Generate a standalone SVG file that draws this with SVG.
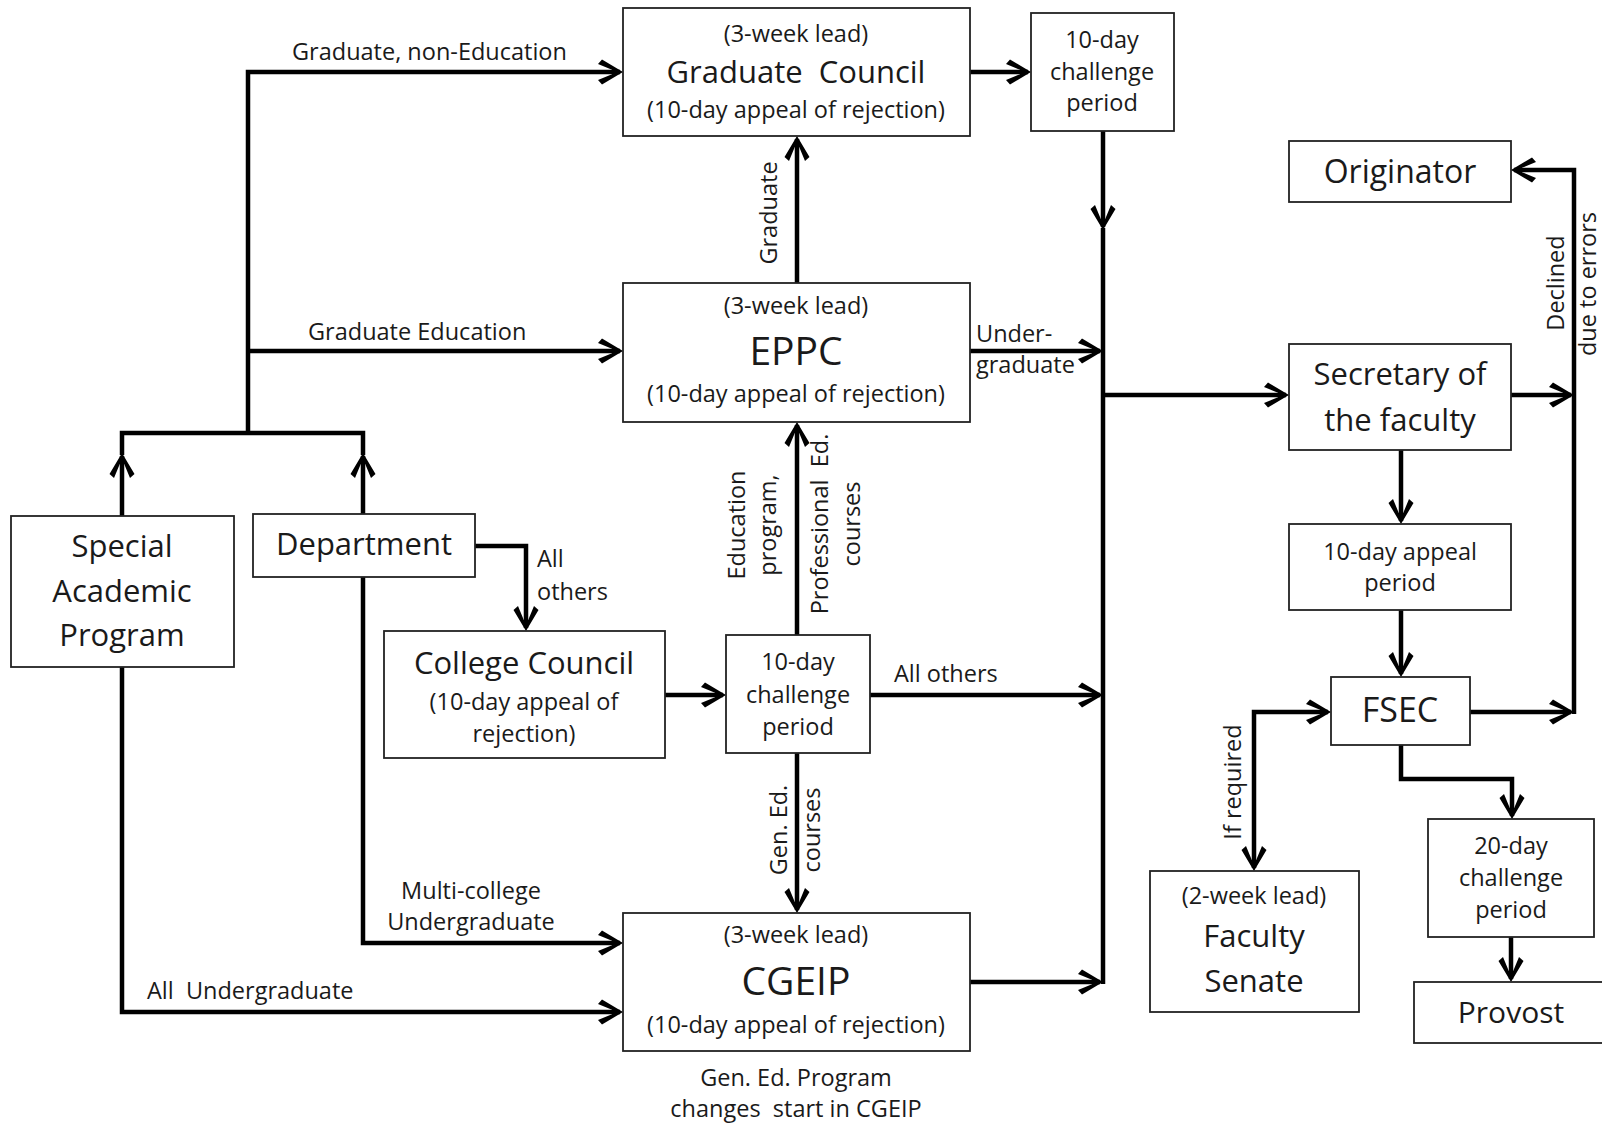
<svg xmlns="http://www.w3.org/2000/svg" width="1602" height="1125" viewBox="0 0 1602 1125">
<defs>
<style>
text{font-family:"Open Sans","Noto Sans","Liberation Sans",sans-serif;fill:#1a1a1a;}
.box{fill:#fff;stroke:#222;stroke-width:1.8;}
.s{font-size:23.5px;}
.m{font-size:31px;}
.l{font-size:39px;}
.c{text-anchor:middle;}
.ln{fill:none;stroke:#000;stroke-width:4.5;stroke-linejoin:miter;}
.ar{marker-end:url(#a);}
</style>
<marker id="a" markerUnits="userSpaceOnUse" viewBox="-26 -14 30 28" refX="-3" refY="0" markerWidth="30" markerHeight="28" orient="auto-start-reverse" overflow="visible">
<path d="M0,0 L-21,-12.5 L-25,-8 L-11,-2.2 L-11,2.2 L-25,8 L-21,12.5 Z" fill="#000"/>
</marker>
</defs>
<rect width="1602" height="1125" fill="#fff"/>

<g id="connectors">
<path class="ln" d="M122,455 L122,433 L363,433 L363,455"/>
<path class="ln ar" d="M122,516 L122,456"/>
<path class="ln ar" d="M363,514 L363,456"/>
<path class="ln ar" d="M248,435 L248,72 L620,72"/>
<path class="ln ar" d="M248,351 L620,351"/>
<path class="ln ar" d="M475,546 L526,546 L526,628"/>
<path class="ln ar" d="M363,577 L363,943 L620,943"/>
<path class="ln ar" d="M122,667 L122,1012 L620,1012"/>
<path class="ln ar" d="M665,695 L723,695"/>
<path class="ln ar" d="M797,635 L797,425"/>
<path class="ln ar" d="M797,753 L797,910"/>
<path class="ln ar" d="M870,695 L1100,695"/>
<path class="ln ar" d="M797,283 L797,139"/>
<path class="ln ar" d="M970,72 L1028,72"/>
<path class="ln ar" d="M1103,131 L1103,227"/>
<path class="ln" d="M1103,228 L1103,984"/>
<path class="ln ar" d="M970,351 L1100,351"/>
<path class="ln ar" d="M970,982 L1100,982"/>
<path class="ln ar" d="M1103,395 L1286,395"/>
<path class="ln ar" d="M1401,450 L1401,521"/>
<path class="ln ar" d="M1401,610 L1401,674"/>
<path class="ln ar" d="M1401,745 L1401,779 L1512,779 L1512,816"/>
<path class="ln ar" d="M1511,937 L1511,979"/>
<path class="ln ar" d="M1470,712 L1571,712"/>
<path class="ln ar" d="M1511,395 L1571,395"/>
<path class="ln ar" d="M1574,714 L1574,170 L1514,170"/>
<path class="ln ar" d="M1254,868 L1254,712 L1328,712" marker-start="url(#a)"/>
</g>

<g id="edge-labels">
<text class="s" x="292" y="60">Graduate, non-Education</text>
<text class="s" x="308" y="340">Graduate Education</text>
<text class="s" x="537" y="567">All</text>
<text class="s" x="537" y="600">others</text>
<text class="s c" x="471" y="899">Multi-college</text>
<text class="s c" x="471" y="930">Undergraduate</text>
<text class="s" x="147" y="999" xml:space="preserve">All  Undergraduate</text>
<text class="s" x="894" y="682">All others</text>
<text class="s" x="976" y="342">Under-</text>
<text class="s" x="976" y="373">graduate</text>
<text class="s c" transform="translate(777,213) rotate(-90)">Graduate</text>
<text class="s c" transform="translate(745,525) rotate(-90)">Education</text>
<text class="s c" transform="translate(776,525) rotate(-90)">program,</text>
<text class="s c" transform="translate(828,524) rotate(-90)" xml:space="preserve">Professional  Ed.</text>
<text class="s c" transform="translate(860,524) rotate(-90)">courses</text>
<text class="s c" transform="translate(787,830) rotate(-90)">Gen. Ed.</text>
<text class="s c" transform="translate(820,830) rotate(-90)">courses</text>
<text class="s c" transform="translate(1564,283) rotate(-90)">Declined</text>
<text class="s c" transform="translate(1596,284) rotate(-90)">due to errors</text>
<text class="s c" transform="translate(1241,782) rotate(-90)">If required</text>
<text class="s c" x="796" y="1086">Gen. Ed. Program</text>
<text class="s c" x="796" y="1117" xml:space="preserve">changes  start in CGEIP</text>
</g>

<g id="graduate-council">
<rect class="box" x="623" y="8" width="347" height="128"/>
<text class="s c" x="796" y="42">(3-week lead)</text>
<text class="m c" x="796" y="83" xml:space="preserve">Graduate  Council</text>
<text class="s c" x="796" y="118">(10-day appeal of rejection)</text>
</g>

<g id="challenge-top">
<rect class="box" x="1031" y="13" width="143" height="118"/>
<text class="s c" x="1102" y="48">10-day</text>
<text class="s c" x="1102" y="80">challenge</text>
<text class="s c" x="1102" y="111">period</text>
</g>

<g id="originator">
<rect class="box" x="1289" y="141" width="222" height="61"/>
<text class="c" style="font-size:32px" x="1400" y="183">Originator</text>
</g>

<g id="eppc">
<rect class="box" x="623" y="283" width="347" height="139"/>
<text class="s c" x="796" y="314">(3-week lead)</text>
<text class="l c" x="796" y="365">EPPC</text>
<text class="s c" x="796" y="402">(10-day appeal of rejection)</text>
</g>

<g id="secretary">
<rect class="box" x="1289" y="344" width="222" height="106"/>
<text class="m c" x="1400" y="385">Secretary of</text>
<text class="m c" x="1400" y="431">the faculty</text>
</g>

<g id="special-academic-program">
<rect class="box" x="11" y="516" width="223" height="151"/>
<text class="m c" x="122" y="557">Special</text>
<text class="m c" x="122" y="602">Academic</text>
<text class="m c" x="122" y="646">Program</text>
</g>

<g id="department">
<rect class="box" x="253" y="514" width="222" height="63"/>
<text class="m c" x="364" y="555">Department</text>
</g>

<g id="college-council">
<rect class="box" x="384" y="631" width="281" height="127"/>
<text class="m c" x="524" y="674">College Council</text>
<text class="s c" x="524" y="710">(10-day appeal of</text>
<text class="s c" x="524" y="742">rejection)</text>
</g>

<g id="challenge-mid">
<rect class="box" x="726" y="635" width="144" height="118"/>
<text class="s c" x="798" y="670">10-day</text>
<text class="s c" x="798" y="703">challenge</text>
<text class="s c" x="798" y="735">period</text>
</g>

<g id="appeal-period">
<rect class="box" x="1289" y="524" width="222" height="86"/>
<text class="s c" x="1400" y="560">10-day appeal</text>
<text class="s c" x="1400" y="591">period</text>
</g>

<g id="fsec">
<rect class="box" x="1331" y="677" width="139" height="68"/>
<text class="c" style="font-size:34px" x="1400" y="722">FSEC</text>
</g>

<g id="cgeip">
<rect class="box" x="623" y="913" width="347" height="138"/>
<text class="s c" x="796" y="943">(3-week lead)</text>
<text class="l c" x="796" y="995">CGEIP</text>
<text class="s c" x="796" y="1033">(10-day appeal of rejection)</text>
</g>

<g id="faculty-senate">
<rect class="box" x="1150" y="871" width="209" height="141"/>
<text class="s c" x="1254" y="904">(2-week lead)</text>
<text class="m c" x="1254" y="947">Faculty</text>
<text class="m c" x="1254" y="992">Senate</text>
</g>

<g id="challenge-20">
<rect class="box" x="1428" y="819" width="166" height="118"/>
<text class="s c" x="1511" y="854">20-day</text>
<text class="s c" x="1511" y="886">challenge</text>
<text class="s c" x="1511" y="918">period</text>
</g>

<g id="provost">
<rect class="box" x="1414" y="982" width="200" height="61"/>
<text class="c" style="font-size:30px" x="1511" y="1023">Provost</text>
</g>
</svg>
